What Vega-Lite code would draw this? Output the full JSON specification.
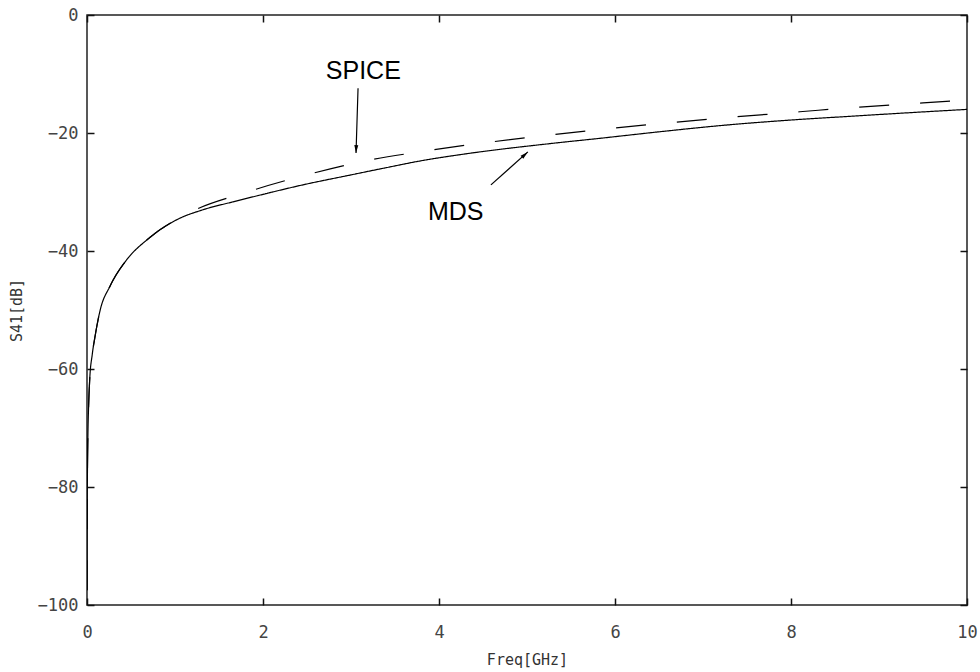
{
  "$schema": "https://vega.github.io/schema/vega-lite/v6.json",
  "width": 880,
  "height": 590,
  "autosize": {"type": "none"},
  "padding": {"left": 87, "top": 15, "right": 13, "bottom": 67},
  "background": "white",
  "config": {
    "view": {"stroke": "#222", "strokeWidth": 1.5},
    "axis": {
      "grid": false,
      "domain": false,
      "tickSize": -7,
      "tickColor": "#111",
      "tickWidth": 1.5,
      "labelFont": "DejaVu Sans Mono",
      "labelFontSize": 17,
      "labelColor": "#444",
      "labelFlush": false,
      "labelOverlap": false,
      "titleFont": "DejaVu Sans Mono",
      "titleFontSize": 15,
      "titleFontWeight": "normal",
      "titleColor": "#333"
    }
  },
  "datasets": {
    "curves": [
      {"model": "MDS", "freq": 0.0005, "s41": -97.5},
      {"model": "MDS", "freq": 0.001, "s41": -91.5},
      {"model": "MDS", "freq": 0.002, "s41": -85.5},
      {"model": "MDS", "freq": 0.005, "s41": -77.5},
      {"model": "MDS", "freq": 0.01, "s41": -71.5},
      {"model": "MDS", "freq": 0.02, "s41": -65.5},
      {"model": "MDS", "freq": 0.03, "s41": -62},
      {"model": "MDS", "freq": 0.06, "s41": -57.5},
      {"model": "MDS", "freq": 0.09, "s41": -54.6},
      {"model": "MDS", "freq": 0.15, "s41": -50},
      {"model": "MDS", "freq": 0.26, "s41": -46},
      {"model": "MDS", "freq": 0.45, "s41": -41.5},
      {"model": "MDS", "freq": 0.69, "s41": -38},
      {"model": "MDS", "freq": 1.02, "s41": -34.7},
      {"model": "MDS", "freq": 1.32, "s41": -33.0},
      {"model": "MDS", "freq": 1.65, "s41": -31.7},
      {"model": "MDS", "freq": 2.0, "s41": -30.4},
      {"model": "MDS", "freq": 2.42, "s41": -28.9},
      {"model": "MDS", "freq": 3.0, "s41": -27.1},
      {"model": "MDS", "freq": 3.36, "s41": -26.0},
      {"model": "MDS", "freq": 3.8, "s41": -24.7},
      {"model": "MDS", "freq": 4.32, "s41": -23.5},
      {"model": "MDS", "freq": 5.26, "s41": -21.8},
      {"model": "MDS", "freq": 5.83, "s41": -20.9},
      {"model": "MDS", "freq": 6.5, "s41": -19.8},
      {"model": "MDS", "freq": 7.23, "s41": -18.7},
      {"model": "MDS", "freq": 8.0, "s41": -17.8},
      {"model": "MDS", "freq": 8.64, "s41": -17.2},
      {"model": "MDS", "freq": 9.3, "s41": -16.6},
      {"model": "MDS", "freq": 10, "s41": -16.0},
      {"model": "SPICE", "freq": 0.0005, "s41": -97.5},
      {"model": "SPICE", "freq": 0.001, "s41": -91.5},
      {"model": "SPICE", "freq": 0.002, "s41": -85.5},
      {"model": "SPICE", "freq": 0.005, "s41": -77.5},
      {"model": "SPICE", "freq": 0.01, "s41": -71.5},
      {"model": "SPICE", "freq": 0.02, "s41": -65.5},
      {"model": "SPICE", "freq": 0.03, "s41": -62},
      {"model": "SPICE", "freq": 0.06, "s41": -57.5},
      {"model": "SPICE", "freq": 0.09, "s41": -54.6},
      {"model": "SPICE", "freq": 0.15, "s41": -50},
      {"model": "SPICE", "freq": 0.26, "s41": -46},
      {"model": "SPICE", "freq": 0.45, "s41": -41.5},
      {"model": "SPICE", "freq": 0.69, "s41": -38},
      {"model": "SPICE", "freq": 1.15, "s41": -33.6},
      {"model": "SPICE", "freq": 1.82, "s41": -30.0},
      {"model": "SPICE", "freq": 2.42, "s41": -27.4},
      {"model": "SPICE", "freq": 3.14, "s41": -24.8},
      {"model": "SPICE", "freq": 3.82, "s41": -23.1},
      {"model": "SPICE", "freq": 4.55, "s41": -21.6},
      {"model": "SPICE", "freq": 5.17, "s41": -20.5},
      {"model": "SPICE", "freq": 5.83, "s41": -19.4},
      {"model": "SPICE", "freq": 6.66, "s41": -18.2},
      {"model": "SPICE", "freq": 7.34, "s41": -17.3},
      {"model": "SPICE", "freq": 8.1, "s41": -16.4},
      {"model": "SPICE", "freq": 8.78, "s41": -15.6},
      {"model": "SPICE", "freq": 9.5, "s41": -14.9},
      {"model": "SPICE", "freq": 10, "s41": -14.4}
    ],
    "notes": [
      {"label": "SPICE", "x": 3.14, "y": -9.5},
      {"label": "MDS", "x": 4.19, "y": -33.4}
    ],
    "arrows": [
      {"label": "SPICE", "x": 3.08, "y": -12.4, "x2": 3.057, "y2": -23.4},
      {"label": "MDS", "x": 4.59, "y": -28.8, "x2": 5.01, "y2": -23.2}
    ]
  },
  "resolve": {"axis": {"x": "independent", "y": "independent"}},
  "layer": [
    {
      "data": {"name": "curves"},
      "mark": {"type": "line", "color": "#000", "strokeWidth": 1.2, "interpolate": "monotone", "clip": true},
      "encoding": {
        "x": {
          "field": "freq", "type": "quantitative",
          "scale": {"domain": [0, 10], "nice": false, "zero": false},
          "axis": {"orient": "bottom", "values": [0, 2, 4, 6, 8, 10], "labelPadding": 26, "title": "Freq[GHz]", "titlePadding": 12}
        },
        "y": {
          "field": "s41", "type": "quantitative",
          "scale": {"domain": [-100, 0], "nice": false, "zero": false},
          "axis": {"orient": "left", "values": [0, -20, -40, -60, -80, -100], "labelPadding": 16, "title": "S41[dB]", "titlePadding": 13}
        },
        "strokeDash": {
          "field": "model", "type": "nominal",
          "scale": {"domain": ["MDS", "SPICE"], "range": [[1, 0], [30, 31]]},
          "legend": null
        }
      }
    },
    {
      "data": {"name": "notes"},
      "mark": {"type": "text", "font": "Liberation Sans", "fontSize": 25, "color": "#000", "align": "center", "baseline": "middle"},
      "encoding": {
        "x": {"field": "x", "type": "quantitative", "axis": {"orient": "top", "values": [0, 2, 4, 6, 8, 10], "labels": false, "title": null}},
        "y": {"field": "y", "type": "quantitative", "axis": {"orient": "right", "values": [0, -20, -40, -60, -80, -100], "labels": false, "title": null}},
        "text": {"field": "label"}
      }
    },
    {
      "data": {"name": "arrows"},
      "mark": {"type": "rule", "color": "#000", "strokeWidth": 1.2},
      "encoding": {
        "x": {"field": "x", "type": "quantitative", "axis": null},
        "y": {"field": "y", "type": "quantitative", "axis": null},
        "x2": {"field": "x2"},
        "y2": {"field": "y2"}
      }
    },
    {
      "data": {"name": "arrows"},
      "transform": [{"filter": "datum.label === 'SPICE'"}],
      "mark": {"type": "point", "shape": "M0,0L1,4L-1,4Z", "size": 16, "filled": true, "color": "#000", "opacity": 1, "angle": 182},
      "encoding": {
        "x": {"field": "x2", "type": "quantitative", "axis": null},
        "y": {"field": "y2", "type": "quantitative", "axis": null}
      }
    },
    {
      "data": {"name": "arrows"},
      "transform": [{"filter": "datum.label === 'MDS'"}],
      "mark": {"type": "point", "shape": "M0,0L1,4L-1,4Z", "size": 16, "filled": true, "color": "#000", "opacity": 1, "angle": 48},
      "encoding": {
        "x": {"field": "x2", "type": "quantitative", "axis": null},
        "y": {"field": "y2", "type": "quantitative", "axis": null}
      }
    }
  ]
}
